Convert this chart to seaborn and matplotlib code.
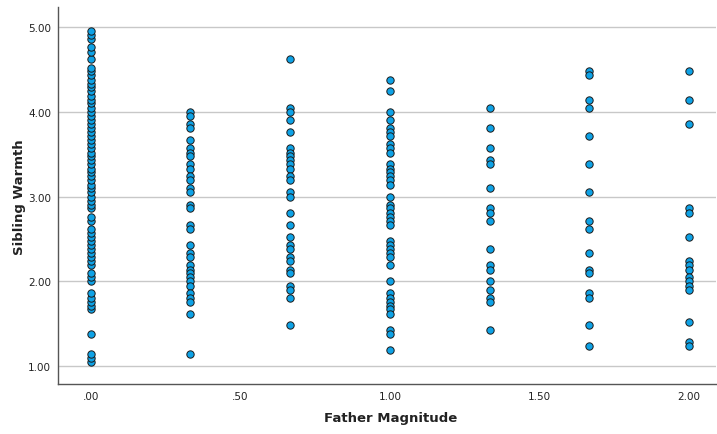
import matplotlib
matplotlib.use("Agg")
import matplotlib.pyplot as plt
import seaborn as sns
import pandas as pd

x_levels = [0.0, 0.333, 0.667, 1.0, 1.333, 1.667, 2.0]

col_0 = [1.05, 1.10, 1.14, 1.38, 1.67, 1.71, 1.76, 1.81, 1.86, 2.00, 2.05, 2.10,
         2.19, 2.24, 2.29, 2.33, 2.38, 2.43, 2.48, 2.52, 2.57, 2.62, 2.71, 2.76,
         2.86, 2.90, 2.95, 3.00, 3.05, 3.10, 3.14, 3.19, 3.24, 3.29, 3.33, 3.38,
         3.43, 3.48, 3.52, 3.57, 3.62, 3.67, 3.71, 3.76, 3.81, 3.86, 3.90, 3.95,
         4.00, 4.05, 4.10, 4.14, 4.19, 4.24, 4.29, 4.33, 4.38, 4.43, 4.48, 4.52,
         4.62, 4.71, 4.76, 4.86, 4.90, 4.95]
col_1 = [4.00, 3.95, 3.86, 3.81, 3.67, 3.57, 3.52, 3.48, 3.38, 3.33, 3.24, 3.19,
         3.10, 3.05, 2.90, 2.86, 2.67, 2.62, 2.43, 2.33, 2.29, 2.19, 2.14, 2.10,
         2.05, 2.00, 1.95, 1.86, 1.81, 1.76, 1.62, 1.14]
col_2 = [4.62, 4.05, 4.00, 3.90, 3.76, 3.57, 3.52, 3.48, 3.43, 3.38, 3.33, 3.24,
         3.19, 3.05, 3.00, 2.81, 2.67, 2.52, 2.43, 2.38, 2.29, 2.24, 2.14, 2.10,
         1.95, 1.90, 1.81, 1.48]
col_3 = [4.38, 4.24, 4.00, 3.90, 3.81, 3.76, 3.71, 3.62, 3.57, 3.52, 3.38, 3.33,
         3.29, 3.24, 3.19, 3.14, 3.00, 2.90, 2.86, 2.81, 2.76, 2.71, 2.67, 2.48,
         2.43, 2.38, 2.33, 2.29, 2.19, 2.00, 1.86, 1.81, 1.76, 1.71, 1.67, 1.62,
         1.43, 1.38, 1.19]
col_4 = [4.05, 3.81, 3.57, 3.43, 3.38, 3.10, 2.86, 2.81, 2.71, 2.38, 2.19, 2.14,
         2.00, 1.90, 1.81, 1.76, 1.43]
col_5 = [4.48, 4.43, 4.14, 4.05, 3.71, 3.38, 3.05, 2.71, 2.62, 2.33, 2.14, 2.10,
         1.86, 1.81, 1.48, 1.24]
col_6 = [4.48, 4.14, 3.86, 2.86, 2.81, 2.52, 2.24, 2.19, 2.14, 2.05, 2.00, 1.95,
         1.90, 1.52, 1.29, 1.24]

columns = [col_0, col_1, col_2, col_3, col_4, col_5, col_6]
x_ticks = [0.0, 0.5, 1.0, 1.5, 2.0]
x_tick_labels = [".00", ".50", "1.00", "1.50", "2.00"]
y_ticks = [1.0, 2.0, 3.0, 4.0, 5.0]
y_tick_labels = ["1.00", "2.00", "3.00", "4.00", "5.00"]

rows = []
for xv, ys in zip(x_levels, columns):
    for yv in ys:
        rows.append({"Father Magnitude": xv, "Sibling Warmth": yv})
df = pd.DataFrame(rows)

sns.set_style("white")
plt.rcParams['font.family'] = ['DejaVu Sans']

fig = plt.figure(figsize=(7.17, 4.35), dpi=100)
ax = fig.add_axes([58/717, 50/435, (716-58)/717, (385-8)/435])

sns.scatterplot(data=df, x="Father Magnitude", y="Sibling Warmth", ax=ax,
                color="#0ea2e6", edgecolor="#1a1a1a", linewidth=0.7, s=28,
                zorder=3)

ax.set_xlim(-0.11, 2.09)
ax.set_ylim(0.79, 5.236)
ax.set_xticks(x_ticks)
ax.set_xticklabels(x_tick_labels)
ax.set_yticks(y_ticks)
ax.set_yticklabels(y_tick_labels)
ax.yaxis.grid(True, color="#c8c8c8", linewidth=1.0, zorder=0)
ax.xaxis.grid(False)
ax.tick_params(axis="both", length=0, labelsize=7.5, colors="#222222", pad=5)

for side in ["top", "right"]:
    ax.spines[side].set_visible(False)
for side in ["left", "bottom"]:
    ax.spines[side].set_color("#555555")
    ax.spines[side].set_linewidth(1.0)

ax.set_xlabel("Father Magnitude", fontsize=9.5, fontweight="bold", color="#222222")
ax.set_ylabel("Sibling Warmth", fontsize=9.5, fontweight="bold", color="#222222")
ax.xaxis.set_label_coords((391 - 58) / 658, (385 - 412) / 377)
ax.yaxis.set_label_coords((26 - 58) / 658, (385 - 197) / 377)

fig.savefig("out.png", dpi=100)
